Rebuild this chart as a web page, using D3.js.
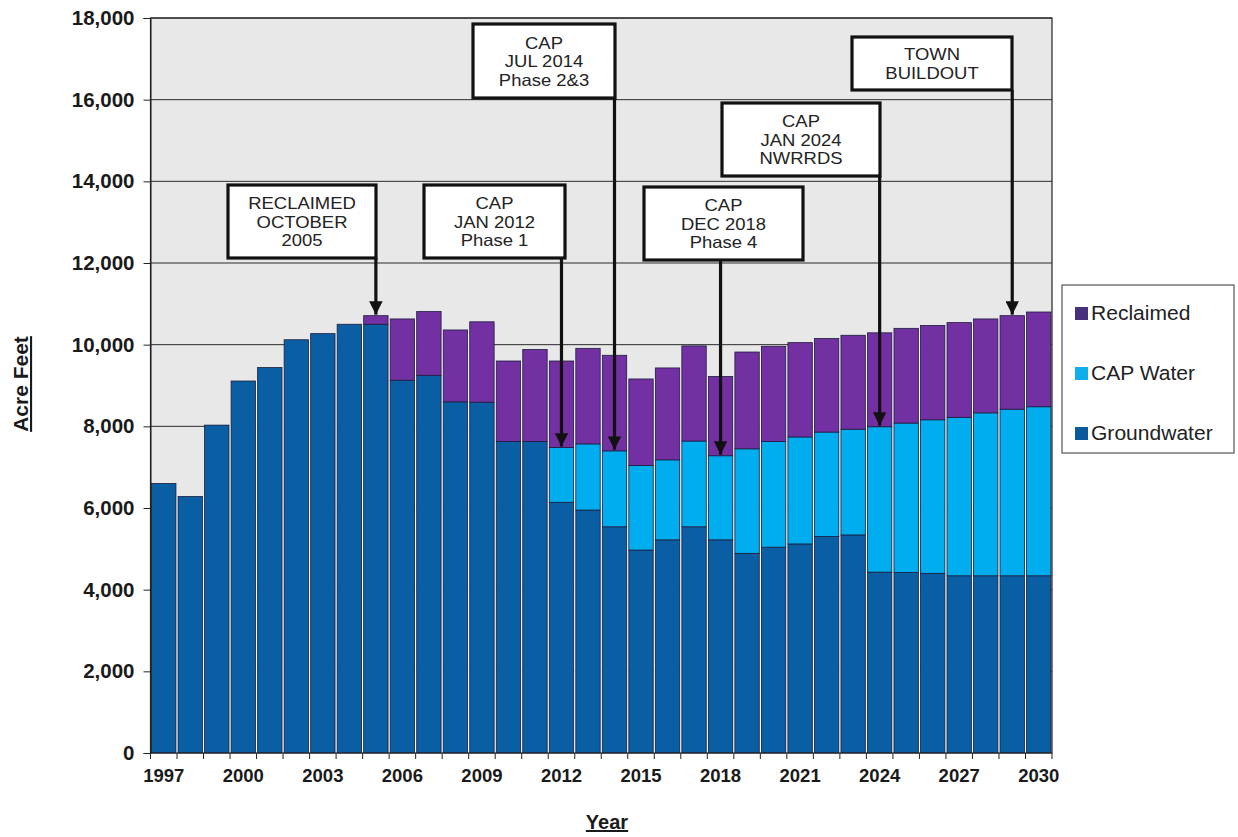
<!DOCTYPE html>
<html>
<head>
<meta charset="utf-8">
<script src="https://cdn.jsdelivr.net/npm/d3@7"></script>
<style>
  html, body { margin: 0; padding: 0; background: #ffffff; }
  svg { display: block; }
</style>
</head>
<body>
<svg id="chart" width="1238" height="837"></svg>
<script>
// Annual water supply by source, acre-feet
const years = [1997,1998,1999,2000,2001,2002,2003,2004,2005,2006,2007,2008,2009,2010,2011,2012,2013,2014,2015,2016,2017,2018,2019,2020,2021,2022,2023,2024,2025,2026,2027,2028,2029,2030];
const groundwater = [6600,6280,8030,9110,9440,10120,10270,10500,10500,9130,9250,8600,8590,7630,7630,6140,5950,5540,4970,5220,5540,5220,4890,5040,5120,5300,5340,4430,4420,4400,4340,4340,4340,4340];
const capWater    = [0,0,0,0,0,0,0,0,0,0,0,0,0,0,0,1340,1620,1860,2070,1960,2100,2060,2560,2590,2620,2560,2590,3560,3660,3760,3880,3990,4080,4140];
const reclaimed   = [0,0,0,0,0,0,0,0,210,1500,1560,1760,1970,1970,2250,2120,2340,2340,2120,2250,2330,1940,2370,2330,2310,2290,2300,2300,2320,2310,2320,2300,2290,2320];
const yTicks = [0,2000,4000,6000,8000,10000,12000,14000,16000,18000];
const xTickLabels = [1997,2000,2003,2006,2009,2012,2015,2018,2021,2024,2027,2030];

// Milestone callouts: year of the bar the arrow points to, and box text
const callouts = [
  { year: 2005, lines: ["RECLAIMED","OCTOBER","2005"], box: [228,185,376,258] },
  { year: 2012, lines: ["CAP","JAN 2012","Phase 1"], box: [424,185,565,258] },
  { year: 2014, lines: ["CAP","JUL 2014","Phase 2&3"], box: [473,24,615,98] },
  { year: 2018, lines: ["CAP","DEC 2018","Phase 4"], box: [644,187,803,260] },
  { year: 2024, lines: ["CAP","JAN 2024","NWRRDS"], box: [722,103,880,176] },
  { year: 2029, lines: ["TOWN","BUILDOUT"], box: [852,37,1012,90] }
];

const seriesKeys = ["Groundwater","CAP Water","Reclaimed"];
const colors = { "Groundwater": "#0a5ea3", "CAP Water": "#00aeef", "Reclaimed": "#7330a2" };
const legendSwatch = { "Groundwater": "#0b5b9c", "CAP Water": "#10aeea", "Reclaimed": "#46307c" };

const rows = years.map((y, i) => ({ year: y, "Groundwater": groundwater[i], "CAP Water": capWater[i], "Reclaimed": reclaimed[i] }));
const stacked = d3.stack().keys(seriesKeys)(rows);

const svg = d3.select("#chart");
const plot = { left: 150.5, right: 1052, top: 18, bottom: 753 };

const x = d3.scaleBand().domain(years).range([plot.left, plot.right]).paddingInner(0.08).paddingOuter(0.04);
const y = d3.scaleLinear().domain([0, 18000]).range([plot.bottom, plot.top]);

const font = "Arial, 'Liberation Sans', sans-serif";

// plot background
svg.append("rect")
  .attr("x", plot.left).attr("y", plot.top)
  .attr("width", plot.right - plot.left).attr("height", plot.bottom - plot.top)
  .attr("fill", "#e9e8e9");

// horizontal gridlines
svg.append("g").selectAll("line")
  .data(yTicks.filter(t => t > 0))
  .join("line")
  .attr("x1", plot.left).attr("x2", plot.right)
  .attr("y1", d => y(d)).attr("y2", d => y(d))
  .attr("stroke", "#2b2b2b").attr("stroke-width", 1);

// light separators between neighbouring columns
const totals = rows.map(r => r["Groundwater"] + r["CAP Water"] + r["Reclaimed"]);
svg.append("g").selectAll("rect")
  .data(years.slice(1))
  .join("rect")
  .attr("x", d => x(d) - x.step() * x.paddingInner())
  .attr("width", x.step() * x.paddingInner())
  .attr("y", (d, i) => y(Math.min(totals[i], totals[i + 1])))
  .attr("height", (d, i) => plot.bottom - y(Math.min(totals[i], totals[i + 1])))
  .attr("fill", "#f7f7f7");

// stacked bars
svg.append("g").selectAll("g")
  .data(stacked)
  .join("g")
  .attr("fill", d => colors[d.key])
  .selectAll("rect")
  .data(d => d.filter(s => s[1] - s[0] > 0))
  .join("rect")
  .attr("x", d => x(d.data.year))
  .attr("y", d => y(d[1]))
  .attr("width", x.bandwidth())
  .attr("height", d => y(d[0]) - y(d[1]))
  .attr("stroke", "#1c1c3c")
  .attr("stroke-width", 0.8);

// plot frame
svg.append("rect")
  .attr("x", plot.left).attr("y", plot.top)
  .attr("width", plot.right - plot.left).attr("height", plot.bottom - plot.top)
  .attr("fill", "none").attr("stroke", "#222").attr("stroke-width", 1.2);

// y axis
const yAxis = d3.axisLeft(y).tickValues(yTicks).tickSize(7).tickPadding(9)
  .tickFormat(d3.format(","));
const yg = svg.append("g").attr("transform", `translate(${plot.left},0)`).call(yAxis);
yg.select(".domain").attr("stroke", "#222");
yg.selectAll(".tick line").attr("stroke", "#222");
yg.selectAll("text").attr("font-family", font).attr("font-size", 20.5).attr("font-weight", "bold").attr("fill", "#1a1a1a");

// x axis: tick marks at bar boundaries, labels every third year
const boundaries = d3.range(years.length + 1).map(i => plot.left + i * (plot.right - plot.left) / years.length);
svg.append("g").selectAll("line")
  .data(boundaries)
  .join("line")
  .attr("x1", d => d).attr("x2", d => d)
  .attr("y1", plot.bottom).attr("y2", plot.bottom + 6)
  .attr("stroke", "#222").attr("stroke-width", 1);
svg.append("g").selectAll("text")
  .data(xTickLabels)
  .join("text")
  .attr("x", d => x(d) + x.bandwidth() / 2)
  .attr("y", 782)
  .attr("text-anchor", "middle")
  .attr("font-family", font).attr("font-size", 18.5).attr("font-weight", "bold").attr("fill", "#1a1a1a")
  .text(d => d);

// axis titles
svg.append("text")
  .attr("transform", "translate(28,384) rotate(-90)")
  .attr("text-anchor", "middle")
  .attr("font-family", font).attr("font-size", 21).attr("font-weight", "bold")
  .attr("text-decoration", "underline").attr("fill", "#1a1a1a")
  .text("Acre Feet");
svg.append("text")
  .attr("x", 607).attr("y", 829)
  .attr("text-anchor", "middle")
  .attr("font-family", font).attr("font-size", 20).attr("font-weight", "bold")
  .attr("text-decoration", "underline").attr("fill", "#1a1a1a")
  .text("Year");

// arrowhead marker
svg.append("defs").append("marker")
  .attr("id", "arrow").attr("viewBox", "0 0 10 10")
  .attr("refX", 10).attr("refY", 5)
  .attr("markerWidth", 4.2).attr("markerHeight", 4.2)
  .attr("markerUnits", "strokeWidth")
  .attr("orient", "auto")
  .append("path").attr("d", "M0,0 L10,5 L0,10 Z").attr("fill", "#111");

// callouts
const idx = yr => years.indexOf(yr);
const cg = svg.append("g");
callouts.forEach(c => {
  const i = idx(c.year);
  const cx = x(c.year) + x.bandwidth() / 2;
  // arrow ends at the CAP/reclaimed boundary, or at the bar top for reclaimed / buildout
  const target = c.year === 2005 || c.year === 2029
    ? groundwater[i] + capWater[i] + reclaimed[i]
    : groundwater[i] + capWater[i];
  const [bx0, by0, bx1, by1] = c.box;
  cg.append("line")
    .attr("x1", cx).attr("x2", cx)
    .attr("y1", by1).attr("y2", y(target) - 1)
    .attr("stroke", "#111").attr("stroke-width", 3.2)
    .attr("marker-end", "url(#arrow)");
  cg.append("rect")
    .attr("x", bx0).attr("y", by0)
    .attr("width", bx1 - bx0).attr("height", by1 - by0)
    .attr("fill", "#ffffff").attr("stroke", "#111").attr("stroke-width", 3.2);
  const midX = (bx0 + bx1) / 2;
  const lh = 18.5;
  const startY = (by0 + by1) / 2 - (c.lines.length - 1) * lh / 2 + 6;
  c.lines.forEach((t, k) => {
    cg.append("text")
      .attr("transform", `translate(${midX},${startY + k * lh}) scale(1.12,1)`)
      .attr("text-anchor", "middle")
      .attr("font-family", font).attr("font-size", 16.5).attr("fill", "#222")
      .text(t);
  });
});

// legend
const lg = svg.append("g");
lg.append("rect")
  .attr("x", 1062).attr("y", 285).attr("width", 172).attr("height", 168)
  .attr("fill", "#ffffff").attr("stroke", "#333").attr("stroke-width", 1);
const legendItems = ["Reclaimed", "CAP Water", "Groundwater"];
legendItems.forEach((k, i) => {
  const cy = 313 + i * 60;
  lg.append("rect")
    .attr("x", 1075).attr("y", cy - 6).attr("width", 13).attr("height", 13)
    .attr("fill", legendSwatch[k]);
  lg.append("text")
    .attr("transform", `translate(1091,${cy + 7}) scale(1.08,1)`)
    .attr("font-family", font).attr("font-size", 19.5).attr("fill", "#222")
    .text(k);
});
</script>
</body>
</html>
